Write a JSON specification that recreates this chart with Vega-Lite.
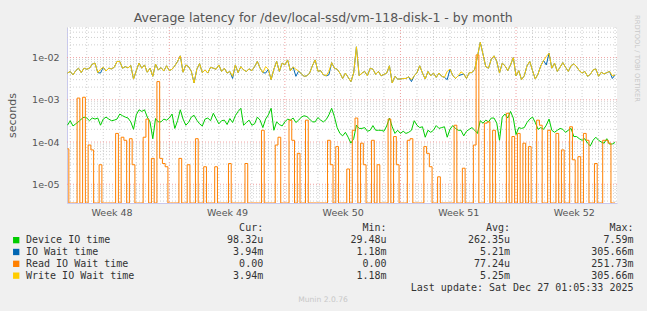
{
"$schema":"https://vega.github.io/schema/vega-lite/v6.json",
"width":550,"height":176,
"autosize":{"type":"none"},
"padding":{"left":67,"top":27,"right":30,"bottom":108},
"background":"#f0f0f0",
"config":{"view":{"fill":"#ffffff","stroke":null},"font":"DejaVu Sans",
 "axisX":{"domainColor":"#c8c8ee","ticks":false,"labelFont":"DejaVu Sans","labelFontSize":9.5,"labelColor":"#555555","labelPadding":4,"grid":false,"labelFlush":false},
 "axisY":{"domainColor":"#c8c8ee","ticks":false,"labelFont":"DejaVu Sans","labelFontSize":9.5,"labelColor":"#555555","labelPadding":8,"grid":false,"titleFont":"DejaVu Sans","titleFontSize":11,"titleFontWeight":"normal","titleColor":"#555555","titlePadding":14}},
"datasets":{
"series":[
{"t":"2025-11-24T20:00:00Z","d":2.5e-4,"i":4.3e-3,"r":6.9e-5,"w":4.3e-3},
{"t":"2025-11-25T00:00:00Z","d":3.2e-4,"i":4.7e-3,"r":0,"w":4.7e-3},
{"t":"2025-11-25T04:00:00Z","d":2.4e-4,"i":3.9e-3,"r":0,"w":3.9e-3},
{"t":"2025-11-25T08:00:00Z","d":2.7e-4,"i":4.9e-3,"r":0,"w":4.9e-3},
{"t":"2025-11-25T12:00:00Z","d":3.0e-4,"i":5.6e-3,"r":1.1e-3,"w":5.6e-3},
{"t":"2025-11-25T16:00:00Z","d":3.5e-4,"i":4.4e-3,"r":0,"w":4.4e-3},
{"t":"2025-11-25T20:00:00Z","d":3.9e-4,"i":5.6e-3,"r":1.15e-3,"w":5.6e-3},
{"t":"2025-11-26T00:00:00Z","d":3.7e-4,"i":5.3e-3,"r":0,"w":5.3e-3},
{"t":"2025-11-26T04:00:00Z","d":3.2e-4,"i":5.6e-3,"r":8.5e-5,"w":5.6e-3},
{"t":"2025-11-26T08:00:00Z","d":3.7e-4,"i":7.0e-3,"r":6.5e-5,"w":7.0e-3},
{"t":"2025-11-26T12:00:00Z","d":3.5e-4,"i":7.4e-3,"r":0,"w":7.4e-3},
{"t":"2025-11-26T16:00:00Z","d":3.7e-4,"i":4.4e-3,"r":0,"w":4.4e-3},
{"t":"2025-11-26T20:00:00Z","d":2.5e-4,"i":4.3e-3,"r":2.9e-5,"w":5.3e-3},
{"t":"2025-11-27T00:00:00Z","d":3.5e-4,"i":5.9e-3,"r":0,"w":5.9e-3},
{"t":"2025-11-27T04:00:00Z","d":3.9e-4,"i":4.8e-3,"r":0,"w":4.8e-3},
{"t":"2025-11-27T08:00:00Z","d":3.5e-4,"i":5.6e-3,"r":0,"w":5.6e-3},
{"t":"2025-11-27T12:00:00Z","d":3.2e-4,"i":5.4e-3,"r":0,"w":5.4e-3},
{"t":"2025-11-27T16:00:00Z","d":3.3e-4,"i":5.9e-3,"r":0,"w":5.9e-3},
{"t":"2025-11-27T20:00:00Z","d":3.5e-4,"i":8.1e-3,"r":1.6e-4,"w":8.1e-3},
{"t":"2025-11-28T00:00:00Z","d":4.6e-4,"i":8.1e-3,"r":0,"w":8.1e-3},
{"t":"2025-11-28T04:00:00Z","d":4.2e-4,"i":5.6e-3,"r":1.3e-4,"w":5.6e-3},
{"t":"2025-11-28T08:00:00Z","d":3.9e-4,"i":6.1e-3,"r":1.1e-4,"w":6.1e-3},
{"t":"2025-11-28T12:00:00Z","d":3.7e-4,"i":5.7e-3,"r":0,"w":5.7e-3},
{"t":"2025-11-28T16:00:00Z","d":3.0e-4,"i":6.5e-3,"r":1.2e-4,"w":6.5e-3},
{"t":"2025-11-28T20:00:00Z","d":2.0e-4,"i":3.1e-3,"r":2.9e-5,"w":3.1e-3},
{"t":"2025-11-29T00:00:00Z","d":4.4e-4,"i":4.9e-3,"r":0,"w":4.9e-3},
{"t":"2025-11-29T04:00:00Z","d":5.8e-4,"i":7.4e-3,"r":0,"w":7.4e-3},
{"t":"2025-11-29T08:00:00Z","d":5.3e-4,"i":5.6e-3,"r":0,"w":5.6e-3},
{"t":"2025-11-29T12:00:00Z","d":5.8e-4,"i":6.7e-3,"r":1.3e-4,"w":6.7e-3},
{"t":"2025-11-29T16:00:00Z","d":3.9e-4,"i":4.5e-3,"r":3.5e-4,"w":4.5e-3},
{"t":"2025-11-29T20:00:00Z","d":3.0e-4,"i":5.6e-3,"r":0,"w":5.6e-3},
{"t":"2025-11-30T00:00:00Z","d":1.2e-4,"i":3.6e-3,"r":4.1e-5,"w":3.6e-3},
{"t":"2025-11-30T04:00:00Z","d":3.6e-4,"i":7.0e-3,"r":0,"w":7.0e-3},
{"t":"2025-11-30T08:00:00Z","d":3.0e-4,"i":5.1e-3,"r":2.7e-3,"w":5.1e-3},
{"t":"2025-11-30T12:00:00Z","d":3.0e-4,"i":5.8e-3,"r":4.1e-5,"w":5.8e-3},
{"t":"2025-11-30T16:00:00Z","d":3.5e-4,"i":4.8e-3,"r":3.1e-5,"w":4.8e-3},
{"t":"2025-11-30T20:00:00Z","d":3.3e-4,"i":6.4e-3,"r":2.6e-5,"w":6.4e-3},
{"t":"2025-12-01T00:00:00Z","d":3.7e-4,"i":4.9e-3,"r":0,"w":4.9e-3},
{"t":"2025-12-01T04:00:00Z","d":4.6e-4,"i":5.3e-3,"r":0,"w":5.3e-3},
{"t":"2025-12-01T08:00:00Z","d":2.1e-4,"i":6.4e-3,"r":0,"w":6.4e-3},
{"t":"2025-12-01T12:00:00Z","d":3.2e-4,"i":8.1e-3,"r":0,"w":8.1e-3},
{"t":"2025-12-01T16:00:00Z","d":5.8e-4,"i":1.1e-2,"r":4.1e-5,"w":1.1e-2},
{"t":"2025-12-01T20:00:00Z","d":3.5e-4,"i":4.5e-3,"r":0,"w":4.5e-3},
{"t":"2025-12-02T00:00:00Z","d":2.5e-4,"i":6.7e-3,"r":0,"w":6.7e-3},
{"t":"2025-12-02T04:00:00Z","d":2.9e-4,"i":6.1e-3,"r":2.9e-5,"w":6.1e-3},
{"t":"2025-12-02T08:00:00Z","d":3.9e-4,"i":4.75e-3,"r":0,"w":4.75e-3},
{"t":"2025-12-02T12:00:00Z","d":4.3e-4,"i":2.5e-3,"r":0,"w":2.5e-3},
{"t":"2025-12-02T16:00:00Z","d":3.3e-4,"i":5.3e-3,"r":1.2e-4,"w":5.3e-3},
{"t":"2025-12-02T20:00:00Z","d":2.7e-4,"i":7.2e-3,"r":0,"w":7.2e-3},
{"t":"2025-12-03T00:00:00Z","d":2.4e-4,"i":4.4e-3,"r":0,"w":4.4e-3},
{"t":"2025-12-03T04:00:00Z","d":3.5e-4,"i":5.1e-3,"r":2.6e-5,"w":5.1e-3},
{"t":"2025-12-03T08:00:00Z","d":3.7e-4,"i":4.3e-3,"r":0,"w":4.3e-3},
{"t":"2025-12-03T12:00:00Z","d":3.2e-4,"i":5.9e-3,"r":0,"w":5.9e-3},
{"t":"2025-12-03T16:00:00Z","d":4.8e-4,"i":5.6e-3,"r":0,"w":5.6e-3},
{"t":"2025-12-03T20:00:00Z","d":3.6e-4,"i":5.3e-3,"r":2.6e-5,"w":5.3e-3},
{"t":"2025-12-04T00:00:00Z","d":2.7e-4,"i":6.7e-3,"r":0,"w":6.7e-3},
{"t":"2025-12-04T04:00:00Z","d":3.2e-4,"i":4.7e-3,"r":0,"w":4.7e-3},
{"t":"2025-12-04T08:00:00Z","d":3.3e-4,"i":5.6e-3,"r":0,"w":5.6e-3},
{"t":"2025-12-04T12:00:00Z","d":2.6e-4,"i":4.3e-3,"r":0,"w":4.3e-3},
{"t":"2025-12-04T16:00:00Z","d":3.6e-4,"i":4.7e-3,"r":3.1e-5,"w":4.7e-3},
{"t":"2025-12-04T20:00:00Z","d":2.9e-4,"i":3.2e-3,"r":0,"w":3.6e-3},
{"t":"2025-12-05T00:00:00Z","d":4.2e-4,"i":6.7e-3,"r":0,"w":6.7e-3},
{"t":"2025-12-05T04:00:00Z","d":5.3e-4,"i":4.4e-3,"r":0,"w":4.4e-3},
{"t":"2025-12-05T08:00:00Z","d":6.3e-4,"i":6.1e-3,"r":0,"w":6.1e-3},
{"t":"2025-12-05T12:00:00Z","d":2.5e-4,"i":5.1e-3,"r":0,"w":5.1e-3},
{"t":"2025-12-05T16:00:00Z","d":2.9e-4,"i":4.7e-3,"r":3.1e-5,"w":4.7e-3},
{"t":"2025-12-05T20:00:00Z","d":3.3e-4,"i":5.4e-3,"r":0,"w":5.4e-3},
{"t":"2025-12-06T00:00:00Z","d":2.5e-4,"i":4.9e-3,"r":0,"w":4.9e-3},
{"t":"2025-12-06T04:00:00Z","d":2.7e-4,"i":6.1e-3,"r":0,"w":6.1e-3},
{"t":"2025-12-06T08:00:00Z","d":3.9e-4,"i":8.1e-3,"r":0,"w":8.1e-3},
{"t":"2025-12-06T12:00:00Z","d":3.3e-4,"i":5.6e-3,"r":0,"w":5.6e-3},
{"t":"2025-12-06T16:00:00Z","d":2.2e-4,"i":4.4e-3,"r":1.9e-4,"w":4.4e-3},
{"t":"2025-12-06T20:00:00Z","d":3.5e-4,"i":4.3e-3,"r":0,"w":6.1e-3},
{"t":"2025-12-07T00:00:00Z","d":4.4e-4,"i":5.3e-3,"r":0,"w":5.3e-3},
{"t":"2025-12-07T04:00:00Z","d":6.3e-4,"i":3.0e-3,"r":0,"w":3.0e-3},
{"t":"2025-12-07T08:00:00Z","d":1.9e-4,"i":5.3e-3,"r":0,"w":5.3e-3},
{"t":"2025-12-07T12:00:00Z","d":3.0e-4,"i":8.1e-3,"r":8.5e-5,"w":8.1e-3},
{"t":"2025-12-07T16:00:00Z","d":2.6e-4,"i":4.7e-3,"r":1.3e-4,"w":4.7e-3},
{"t":"2025-12-07T20:00:00Z","d":2.4e-4,"i":7.4e-3,"r":0,"w":7.4e-3},
{"t":"2025-12-08T00:00:00Z","d":3.0e-4,"i":6.7e-3,"r":0,"w":6.7e-3},
{"t":"2025-12-08T04:00:00Z","d":3.5e-4,"i":8.8e-3,"r":0,"w":8.8e-3},
{"t":"2025-12-08T08:00:00Z","d":3.3e-4,"i":4.9e-3,"r":3.3e-4,"w":4.9e-3},
{"t":"2025-12-08T12:00:00Z","d":3.7e-4,"i":6.0e-3,"r":1.1e-4,"w":6.0e-3},
{"t":"2025-12-08T16:00:00Z","d":2.9e-4,"i":3.6e-3,"r":0,"w":5.3e-3},
{"t":"2025-12-08T20:00:00Z","d":3.3e-4,"i":4.8e-3,"r":5.4e-5,"w":4.8e-3},
{"t":"2025-12-09T00:00:00Z","d":3.9e-4,"i":4.1e-3,"r":0,"w":4.1e-3},
{"t":"2025-12-09T04:00:00Z","d":4.2e-4,"i":3.6e-3,"r":0,"w":3.6e-3},
{"t":"2025-12-09T08:00:00Z","d":4.0e-4,"i":3.7e-3,"r":3.3e-4,"w":3.7e-3},
{"t":"2025-12-09T12:00:00Z","d":3.5e-4,"i":4.3e-3,"r":0,"w":4.3e-3},
{"t":"2025-12-09T16:00:00Z","d":3.0e-4,"i":6.4e-3,"r":0,"w":6.4e-3},
{"t":"2025-12-09T20:00:00Z","d":3.0e-4,"i":8.8e-3,"r":0,"w":8.8e-3},
{"t":"2025-12-10T00:00:00Z","d":3.8e-4,"i":4.75e-3,"r":0,"w":4.75e-3},
{"t":"2025-12-10T04:00:00Z","d":3.3e-4,"i":4.9e-3,"r":0,"w":4.9e-3},
{"t":"2025-12-10T08:00:00Z","d":3.0e-4,"i":3.9e-3,"r":0,"w":3.9e-3},
{"t":"2025-12-10T12:00:00Z","d":3.4e-4,"i":3.7e-3,"r":0,"w":3.7e-3},
{"t":"2025-12-10T16:00:00Z","d":4.4e-4,"i":3.9e-3,"r":1.1e-4,"w":4.7e-3},
{"t":"2025-12-10T20:00:00Z","d":6.3e-4,"i":7.6e-3,"r":2.9e-5,"w":7.6e-3},
{"t":"2025-12-11T00:00:00Z","d":4.0e-4,"i":5.6e-3,"r":0,"w":5.6e-3},
{"t":"2025-12-11T04:00:00Z","d":2.2e-4,"i":5.3e-3,"r":7.8e-5,"w":5.3e-3},
{"t":"2025-12-11T08:00:00Z","d":1.6e-4,"i":4.3e-3,"r":0,"w":4.3e-3},
{"t":"2025-12-11T12:00:00Z","d":1.4e-4,"i":3.2e-3,"r":0,"w":3.2e-3},
{"t":"2025-12-11T16:00:00Z","d":1.7e-4,"i":4.3e-3,"r":0,"w":4.3e-3},
{"t":"2025-12-11T20:00:00Z","d":1.3e-4,"i":3.4e-3,"r":2.3e-5,"w":3.4e-3},
{"t":"2025-12-12T00:00:00Z","d":9.4e-5,"i":2.7e-3,"r":0,"w":2.7e-3},
{"t":"2025-12-12T04:00:00Z","d":1.2e-4,"i":4.3e-3,"r":1.9e-4,"w":4.3e-3},
{"t":"2025-12-12T08:00:00Z","d":2.5e-4,"i":1.8e-2,"r":3.7e-4,"w":1.8e-2},
{"t":"2025-12-12T12:00:00Z","d":2.1e-4,"i":3.7e-3,"r":0,"w":3.7e-3},
{"t":"2025-12-12T16:00:00Z","d":2.1e-4,"i":4.3e-3,"r":9.4e-5,"w":4.3e-3},
{"t":"2025-12-12T20:00:00Z","d":2.2e-4,"i":4.7e-3,"r":2.9e-5,"w":4.7e-3},
{"t":"2025-12-13T00:00:00Z","d":1.8e-4,"i":3.7e-3,"r":0,"w":3.7e-3},
{"t":"2025-12-13T04:00:00Z","d":1.9e-4,"i":5.6e-3,"r":0,"w":5.6e-3},
{"t":"2025-12-13T08:00:00Z","d":2.45e-4,"i":5.3e-3,"r":1.1e-4,"w":5.3e-3},
{"t":"2025-12-13T12:00:00Z","d":1.9e-4,"i":4.0e-3,"r":0,"w":4.0e-3},
{"t":"2025-12-13T16:00:00Z","d":1.9e-4,"i":4.7e-3,"r":2.9e-5,"w":4.7e-3},
{"t":"2025-12-13T20:00:00Z","d":1.9e-4,"i":3.7e-3,"r":0,"w":3.7e-3},
{"t":"2025-12-14T00:00:00Z","d":1.8e-4,"i":4.0e-3,"r":0,"w":4.0e-3},
{"t":"2025-12-14T04:00:00Z","d":2.4e-4,"i":4.3e-3,"r":0,"w":4.3e-3},
{"t":"2025-12-14T08:00:00Z","d":3.7e-4,"i":6.4e-3,"r":3.5e-4,"w":6.4e-3},
{"t":"2025-12-14T12:00:00Z","d":2.3e-4,"i":2.5e-3,"r":0,"w":2.5e-3},
{"t":"2025-12-14T16:00:00Z","d":1.6e-4,"i":3.6e-3,"r":1.35e-4,"w":3.6e-3},
{"t":"2025-12-14T20:00:00Z","d":1.9e-4,"i":3.1e-3,"r":2.9e-5,"w":3.1e-3},
{"t":"2025-12-15T00:00:00Z","d":1.6e-4,"i":3.1e-3,"r":0,"w":3.1e-3},
{"t":"2025-12-15T04:00:00Z","d":1.8e-4,"i":3.2e-3,"r":0,"w":3.2e-3},
{"t":"2025-12-15T08:00:00Z","d":1.6e-4,"i":3.2e-3,"r":0,"w":3.2e-3},
{"t":"2025-12-15T12:00:00Z","d":1.7e-4,"i":3.5e-3,"r":1.1e-4,"w":3.5e-3},
{"t":"2025-12-15T16:00:00Z","d":1.9e-4,"i":2.7e-3,"r":1.2e-4,"w":3.0e-3},
{"t":"2025-12-15T20:00:00Z","d":3.2e-4,"i":3.7e-3,"r":0,"w":3.7e-3},
{"t":"2025-12-16T00:00:00Z","d":2.5e-4,"i":4.4e-3,"r":0,"w":4.4e-3},
{"t":"2025-12-16T04:00:00Z","d":2.2e-4,"i":6.4e-3,"r":0,"w":6.4e-3},
{"t":"2025-12-16T08:00:00Z","d":2.3e-4,"i":4.3e-3,"r":0,"w":4.3e-3},
{"t":"2025-12-16T12:00:00Z","d":1.3e-4,"i":3.1e-3,"r":7.8e-5,"w":3.1e-3},
{"t":"2025-12-16T16:00:00Z","d":1.9e-4,"i":4.7e-3,"r":5.4e-5,"w":4.7e-3},
{"t":"2025-12-16T20:00:00Z","d":1.7e-4,"i":3.7e-3,"r":2.6e-5,"w":3.7e-3},
{"t":"2025-12-17T00:00:00Z","d":1.9e-4,"i":4.3e-3,"r":0,"w":4.3e-3},
{"t":"2025-12-17T04:00:00Z","d":2.45e-4,"i":3.4e-3,"r":0,"w":3.4e-3},
{"t":"2025-12-17T08:00:00Z","d":2.1e-4,"i":4.3e-3,"r":1.5e-5,"w":4.3e-3},
{"t":"2025-12-17T12:00:00Z","d":2.2e-4,"i":3.6e-3,"r":0,"w":3.6e-3},
{"t":"2025-12-17T16:00:00Z","d":2.3e-4,"i":3.4e-3,"r":0,"w":3.4e-3},
{"t":"2025-12-17T20:00:00Z","d":1.3e-4,"i":3.0e-3,"r":0,"w":4.75e-3},
{"t":"2025-12-18T00:00:00Z","d":2.0e-4,"i":5.3e-3,"r":0,"w":5.3e-3},
{"t":"2025-12-18T04:00:00Z","d":2.45e-4,"i":3.8e-3,"r":0,"w":3.8e-3},
{"t":"2025-12-18T08:00:00Z","d":2.1e-4,"i":3.2e-3,"r":2.5e-4,"w":3.2e-3},
{"t":"2025-12-18T12:00:00Z","d":1.9e-4,"i":3.7e-3,"r":0,"w":3.7e-3},
{"t":"2025-12-18T16:00:00Z","d":1.9e-4,"i":3.9e-3,"r":0,"w":4.6e-3},
{"t":"2025-12-18T20:00:00Z","d":1.4e-4,"i":4.1e-3,"r":2.4e-5,"w":4.1e-3},
{"t":"2025-12-19T00:00:00Z","d":1.8e-4,"i":3.2e-3,"r":0,"w":3.2e-3},
{"t":"2025-12-19T04:00:00Z","d":2.0e-4,"i":4.4e-3,"r":0,"w":4.4e-3},
{"t":"2025-12-19T08:00:00Z","d":2.2e-4,"i":4.4e-3,"r":0,"w":4.4e-3},
{"t":"2025-12-19T12:00:00Z","d":1.9e-4,"i":5.3e-3,"r":8.5e-5,"w":5.3e-3},
{"t":"2025-12-19T16:00:00Z","d":1.6e-4,"i":1.06e-2,"r":1.16e-2,"w":1.06e-2},
{"t":"2025-12-19T20:00:00Z","d":3.2e-4,"i":2.3e-2,"r":0,"w":2.3e-2},
{"t":"2025-12-20T00:00:00Z","d":2.8e-4,"i":1.2e-2,"r":0,"w":1.2e-2},
{"t":"2025-12-20T04:00:00Z","d":3.3e-4,"i":6.1e-3,"r":2.8e-4,"w":6.1e-3},
{"t":"2025-12-20T08:00:00Z","d":3.0e-4,"i":5.6e-3,"r":3.0e-4,"w":5.6e-3},
{"t":"2025-12-20T12:00:00Z","d":3.7e-4,"i":9.1e-3,"r":0,"w":9.1e-3},
{"t":"2025-12-20T16:00:00Z","d":3.7e-4,"i":1.1e-2,"r":1.9e-4,"w":1.1e-2},
{"t":"2025-12-20T20:00:00Z","d":2.8e-4,"i":8.1e-3,"r":0,"w":8.1e-3},
{"t":"2025-12-21T00:00:00Z","d":1.1e-4,"i":4.3e-3,"r":0,"w":4.3e-3},
{"t":"2025-12-21T04:00:00Z","d":3.9e-4,"i":7.4e-3,"r":0,"w":7.4e-3},
{"t":"2025-12-21T08:00:00Z","d":4.6e-4,"i":6.4e-3,"r":0,"w":6.4e-3},
{"t":"2025-12-21T12:00:00Z","d":3.7e-4,"i":4.9e-3,"r":4.8e-4,"w":4.9e-3},
{"t":"2025-12-21T16:00:00Z","d":5.3e-4,"i":6.7e-3,"r":0,"w":6.7e-3},
{"t":"2025-12-21T20:00:00Z","d":3.7e-4,"i":1.0e-2,"r":1.35e-4,"w":1.0e-2},
{"t":"2025-12-22T00:00:00Z","d":1.5e-4,"i":3.7e-3,"r":0,"w":3.7e-3},
{"t":"2025-12-22T04:00:00Z","d":2.2e-4,"i":4.9e-3,"r":1.6e-4,"w":4.9e-3},
{"t":"2025-12-22T08:00:00Z","d":2.1e-4,"i":3.0e-3,"r":0,"w":3.0e-3},
{"t":"2025-12-22T12:00:00Z","d":2.2e-4,"i":3.7e-3,"r":9.4e-5,"w":3.7e-3},
{"t":"2025-12-22T16:00:00Z","d":2.9e-4,"i":6.4e-3,"r":0,"w":6.4e-3},
{"t":"2025-12-22T20:00:00Z","d":3.5e-4,"i":8.1e-3,"r":7.8e-5,"w":8.1e-3},
{"t":"2025-12-23T00:00:00Z","d":3.9e-4,"i":4.9e-3,"r":0,"w":4.9e-3},
{"t":"2025-12-23T04:00:00Z","d":2.9e-4,"i":3.1e-3,"r":0,"w":3.1e-3},
{"t":"2025-12-23T08:00:00Z","d":2.0e-4,"i":4.1e-3,"r":3.3e-4,"w":4.1e-3},
{"t":"2025-12-23T12:00:00Z","d":2.2e-4,"i":6.4e-3,"r":2.5e-4,"w":6.4e-3},
{"t":"2025-12-23T16:00:00Z","d":2.0e-4,"i":8.5e-3,"r":0,"w":8.5e-3},
{"t":"2025-12-23T20:00:00Z","d":2.5e-4,"i":6.7e-3,"r":0,"w":1.06e-2},
{"t":"2025-12-24T00:00:00Z","d":3.5e-4,"i":1.27e-2,"r":1.9e-4,"w":1.27e-2},
{"t":"2025-12-24T04:00:00Z","d":1.9e-4,"i":5.6e-3,"r":0,"w":5.6e-3},
{"t":"2025-12-24T08:00:00Z","d":1.7e-4,"i":7.4e-3,"r":0,"w":7.4e-3},
{"t":"2025-12-24T12:00:00Z","d":1.9e-4,"i":4.7e-3,"r":1.6e-4,"w":4.7e-3},
{"t":"2025-12-24T16:00:00Z","d":2.1e-4,"i":5.9e-3,"r":0,"w":5.9e-3},
{"t":"2025-12-24T20:00:00Z","d":2.0e-4,"i":7.6e-3,"r":6.5e-5,"w":7.6e-3},
{"t":"2025-12-25T00:00:00Z","d":1.7e-4,"i":5.9e-3,"r":0,"w":5.9e-3},
{"t":"2025-12-25T04:00:00Z","d":1.9e-4,"i":4.7e-3,"r":0,"w":4.7e-3},
{"t":"2025-12-25T08:00:00Z","d":2.1e-4,"i":6.4e-3,"r":2.3e-4,"w":6.4e-3},
{"t":"2025-12-25T12:00:00Z","d":1.35e-4,"i":7.1e-3,"r":3.8e-5,"w":7.1e-3},
{"t":"2025-12-25T16:00:00Z","d":1.35e-4,"i":6.1e-3,"r":0,"w":6.1e-3},
{"t":"2025-12-25T20:00:00Z","d":1.2e-4,"i":4.9e-3,"r":4.5e-5,"w":4.9e-3},
{"t":"2025-12-26T00:00:00Z","d":1.1e-4,"i":4.3e-3,"r":0,"w":4.3e-3},
{"t":"2025-12-26T04:00:00Z","d":1.2e-4,"i":4.7e-3,"r":1.6e-4,"w":4.7e-3},
{"t":"2025-12-26T08:00:00Z","d":9.4e-5,"i":3.6e-3,"r":1.1e-4,"w":3.6e-3},
{"t":"2025-12-26T12:00:00Z","d":8.1e-5,"i":4.0e-3,"r":0,"w":4.0e-3},
{"t":"2025-12-26T16:00:00Z","d":1.1e-4,"i":5.1e-3,"r":0,"w":5.1e-3},
{"t":"2025-12-26T20:00:00Z","d":1.3e-4,"i":5.4e-3,"r":3.1e-5,"w":5.4e-3},
{"t":"2025-12-27T00:00:00Z","d":1.1e-4,"i":3.6e-3,"r":0,"w":3.6e-3},
{"t":"2025-12-27T04:00:00Z","d":1.0e-4,"i":4.5e-3,"r":0,"w":4.5e-3},
{"t":"2025-12-27T08:00:00Z","d":9.4e-5,"i":4.1e-3,"r":1.1e-4,"w":4.1e-3},
{"t":"2025-12-27T12:00:00Z","d":1.2e-4,"i":4.4e-3,"r":1.1e-4,"w":4.4e-3},
{"t":"2025-12-27T16:00:00Z","d":8.9e-5,"i":4.7e-3,"r":9.4e-5,"w":4.7e-3},
{"t":"2025-12-27T20:00:00Z","d":9.0e-5,"i":3.2e-3,"r":0,"w":3.7e-3},
{"t":"2025-12-28T00:00:00Z","d":9.8e-5,"i":3.9e-3,"r":0,"w":3.9e-3}
],
"daygrid":[{"t":"2025-11-25T00:00:00Z"},{"t":"2025-11-26T00:00:00Z"},{"t":"2025-11-27T00:00:00Z"},{"t":"2025-11-28T00:00:00Z"},{"t":"2025-11-29T00:00:00Z"},{"t":"2025-11-30T00:00:00Z"},{"t":"2025-12-02T00:00:00Z"},{"t":"2025-12-03T00:00:00Z"},{"t":"2025-12-04T00:00:00Z"},{"t":"2025-12-05T00:00:00Z"},{"t":"2025-12-06T00:00:00Z"},{"t":"2025-12-07T00:00:00Z"},{"t":"2025-12-09T00:00:00Z"},{"t":"2025-12-10T00:00:00Z"},{"t":"2025-12-11T00:00:00Z"},{"t":"2025-12-12T00:00:00Z"},{"t":"2025-12-13T00:00:00Z"},{"t":"2025-12-14T00:00:00Z"},{"t":"2025-12-16T00:00:00Z"},{"t":"2025-12-17T00:00:00Z"},{"t":"2025-12-18T00:00:00Z"},{"t":"2025-12-19T00:00:00Z"},{"t":"2025-12-20T00:00:00Z"},{"t":"2025-12-21T00:00:00Z"},{"t":"2025-12-23T00:00:00Z"},{"t":"2025-12-24T00:00:00Z"},{"t":"2025-12-25T00:00:00Z"},{"t":"2025-12-26T00:00:00Z"},{"t":"2025-12-27T00:00:00Z"},{"t":"2025-12-28T00:00:00Z"}],
"weekgrid":[{"t":"2025-12-01T00:00:00Z"},{"t":"2025-12-08T00:00:00Z"},{"t":"2025-12-15T00:00:00Z"},{"t":"2025-12-22T00:00:00Z"}],
"hminor":[{"v":4e-6},{"v":5e-6},{"v":6e-6},{"v":7e-6},{"v":8e-6},{"v":9e-6},{"v":2e-5},{"v":3e-5},{"v":4e-5},{"v":5e-5},{"v":6e-5},{"v":7e-5},{"v":8e-5},{"v":9e-5},{"v":2e-4},{"v":3e-4},{"v":4e-4},{"v":5e-4},{"v":6e-4},{"v":7e-4},{"v":8e-4},{"v":9e-4},{"v":2e-3},{"v":3e-3},{"v":4e-3},{"v":5e-3},{"v":6e-3},{"v":7e-3},{"v":8e-3},{"v":9e-3},{"v":2e-2},{"v":3e-2},{"v":4e-2},{"v":5e-2}],
"hmajor":[{"v":1e-5},{"v":1e-4},{"v":1e-3},{"v":1e-2}],
"stats":[
{"row":"head","cur":"Cur:\u00a0\u00a0","min":"Min:\u00a0\u00a0","avg":"Avg:\u00a0\u00a0","max":"Max:\u00a0\u00a0"},
{"row":"Device IO time","cur":"98.32u","min":"29.48u","avg":"262.35u","max":"7.59m"},
{"row":"IO Wait time","cur":"3.94m","min":"1.18m","avg":"5.21m","max":"305.66m"},
{"row":"Read IO Wait time","cur":"0.00\u00a0","min":"0.00\u00a0","avg":"77.24u","max":"251.73m"},
{"row":"Write IO Wait time","cur":"3.94m","min":"1.18m","avg":"5.25m","max":"305.66m"},
{"row":"foot","max":"Last update: Sat Dec 27 01:05:33 2025"}
]
},
"layer":[
{"layer":[
 {"data":{"name":"daygrid"},"mark":{"type":"rule","color":"#cfcfcf","strokeDash":[1,2],"strokeWidth":1},
  "encoding":{"x":{"field":"t","type":"temporal","title":null,
   "axis":{"values":[{"year":2025,"month":11,"date":27,"hours":12,"utc":true},{"year":2025,"month":12,"date":4,"hours":12,"utc":true},{"year":2025,"month":12,"date":11,"hours":12,"utc":true},{"year":2025,"month":12,"date":18,"hours":12,"utc":true},{"year":2025,"month":12,"date":25,"hours":12,"utc":true}],"labelExpr":"'Week ' + utcFormat(datum.value, '%V')"},
   "scale":{"type":"utc","nice":false,"domain":[{"year":2025,"month":11,"date":24,"hours":19,"minutes":18,"utc":true},{"year":2025,"month":12,"date":28,"hours":2,"minutes":47,"utc":true}]}}}},
 {"data":{"name":"hminor"},"mark":{"type":"rule","color":"#cfcfcf","strokeDash":[1,2],"strokeWidth":1},
  "encoding":{"y":{"field":"v","type":"quantitative","title":"seconds",
   "axis":{"values":[1e-5,1e-4,1e-3,1e-2],"labelExpr":"'1e-0' + round(-log(datum.value)/LN10)"},
   "scale":{"type":"log","nice":false,"domain":[3.6e-6,5.3e-2],"clamp":true}}}},
 {"data":{"name":"weekgrid"},"mark":{"type":"rule","color":"#f0a0a0","strokeDash":[1,2],"strokeWidth":1},
  "encoding":{"x":{"field":"t","type":"temporal","title":null}}},
 {"data":{"name":"hmajor"},"mark":{"type":"rule","color":"#f0a0a0","strokeDash":[1,2],"strokeWidth":1},
  "encoding":{"y":{"field":"v","type":"quantitative","title":"seconds"}}},
 {"data":{"name":"series"},"mark":{"type":"line","color":"#00cc00","strokeWidth":1,"clip":true},
  "encoding":{"x":{"field":"t","type":"temporal","title":null},"y":{"field":"d","type":"quantitative","title":"seconds"}}},
 {"data":{"name":"series"},"mark":{"type":"line","color":"#0066b3","strokeWidth":1,"clip":true},
  "encoding":{"x":{"field":"t","type":"temporal","title":null},"y":{"field":"i","type":"quantitative","title":"seconds"}}},
 {"data":{"name":"series"},"mark":{"type":"line","color":"#ff8000","strokeWidth":1,"interpolate":"step","clip":true},
  "encoding":{"x":{"field":"t","type":"temporal","title":null},"y":{"field":"r","type":"quantitative","title":"seconds"}}},
 {"data":{"name":"series"},"mark":{"type":"line","color":"#ffcc00","strokeWidth":1,"clip":true},
  "encoding":{"x":{"field":"t","type":"temporal","title":null},"y":{"field":"w","type":"quantitative","title":"seconds"}}}
]},
{"data":{"name":"stats"},
 "transform":[{"fold":["cur","min","avg","max"],"as":["col","txt"]},{"filter":"isValid(datum.txt)"}],
 "mark":{"type":"text","align":"right","baseline":"middle","font":"DejaVu Sans Mono","fontSize":10,"color":"#333333"},
 "encoding":{
  "x":{"field":"col","type":"nominal","axis":null,"scale":{"type":"point","domain":["cur","min","avg","max"],"range":[196.2,566.5],"padding":0}},
  "y":{"field":"row","type":"nominal","axis":null,"scale":{"type":"point","domain":["head","Device IO time","IO Wait time","Read IO Wait time","Write IO Wait time","foot"],"range":[201.3,260.5],"padding":0}},
  "text":{"field":"txt"}}},
{"data":{"name":"stats"},
 "transform":[{"filter":{"field":"row","oneOf":["Device IO time","IO Wait time","Read IO Wait time","Write IO Wait time"]}}],
 "mark":{"type":"text","align":"left","baseline":"middle","font":"DejaVu Sans Mono","fontSize":10,"color":"#333333"},
 "encoding":{
  "x":{"field":"row","type":"nominal","axis":null,"scale":{"type":"point","range":[-41,-41],"padding":0}},
  "y":{"field":"row","type":"nominal","axis":null,"scale":{"type":"point","domain":["head","Device IO time","IO Wait time","Read IO Wait time","Write IO Wait time","foot"],"range":[201.3,260.5],"padding":0}},
  "text":{"field":"row"}}},
{"data":{"name":"stats"},
 "transform":[{"filter":{"field":"row","oneOf":["Device IO time","IO Wait time","Read IO Wait time","Write IO Wait time"]}}],
 "mark":{"type":"square","size":40,"opacity":1},
 "encoding":{
  "x":{"field":"row","type":"nominal","axis":null,"scale":{"type":"point","range":[-50.8,-50.8],"padding":0}},
  "y":{"field":"row","type":"nominal","axis":null,"scale":{"type":"point","domain":["head","Device IO time","IO Wait time","Read IO Wait time","Write IO Wait time","foot"],"range":[201.3,260.5],"padding":0}},
  "color":{"field":"row","type":"nominal","legend":null,"scale":{"domain":["Device IO time","IO Wait time","Read IO Wait time","Write IO Wait time"],"range":["#00cc00","#0066b3","#ff8000","#ffcc00"]}}}},
{"data":{"values":[{"txt":"Average latency for /dev/local-ssd/vm-118-disk-1 - by month"}]},
 "mark":{"type":"text","align":"center","baseline":"alphabetic","font":"DejaVu Sans","fontSize":12.5,"color":"#555555"},
 "encoding":{
  "x":{"field":"txt","type":"nominal","axis":null,"scale":{"type":"point","range":[256.2,256.2],"padding":0}},
  "y":{"field":"txt","type":"nominal","axis":null,"scale":{"type":"point","range":[-5,-5],"padding":0}},
  "text":{"field":"txt"}}},
{"data":{"values":[{"txt":"Munin 2.0.76"}]},
 "mark":{"type":"text","align":"center","baseline":"middle","font":"DejaVu Sans","fontSize":7.6,"color":"#c8c8c8"},
 "encoding":{
  "x":{"field":"txt","type":"nominal","axis":null,"scale":{"type":"point","range":[256,256],"padding":0}},
  "y":{"field":"txt","type":"nominal","axis":null,"scale":{"type":"point","range":[273,273],"padding":0}},
  "text":{"field":"txt"}}},
{"data":{"values":[{"txt":"RRDTOOL / TOBI OETIKER"}]},
 "mark":{"type":"text","align":"center","baseline":"middle","font":"DejaVu Sans","fontSize":6.75,"color":"#c8c8c8","angle":90},
 "encoding":{
  "x":{"field":"txt","type":"nominal","axis":null,"scale":{"type":"point","range":[569.7,569.7],"padding":0}},
  "y":{"field":"txt","type":"nominal","axis":null,"scale":{"type":"point","range":[31.5,31.5],"padding":0}},
  "text":{"field":"txt"}}}
],
"resolve":{"scale":{"x":"independent","y":"independent","color":"independent"}}
}
